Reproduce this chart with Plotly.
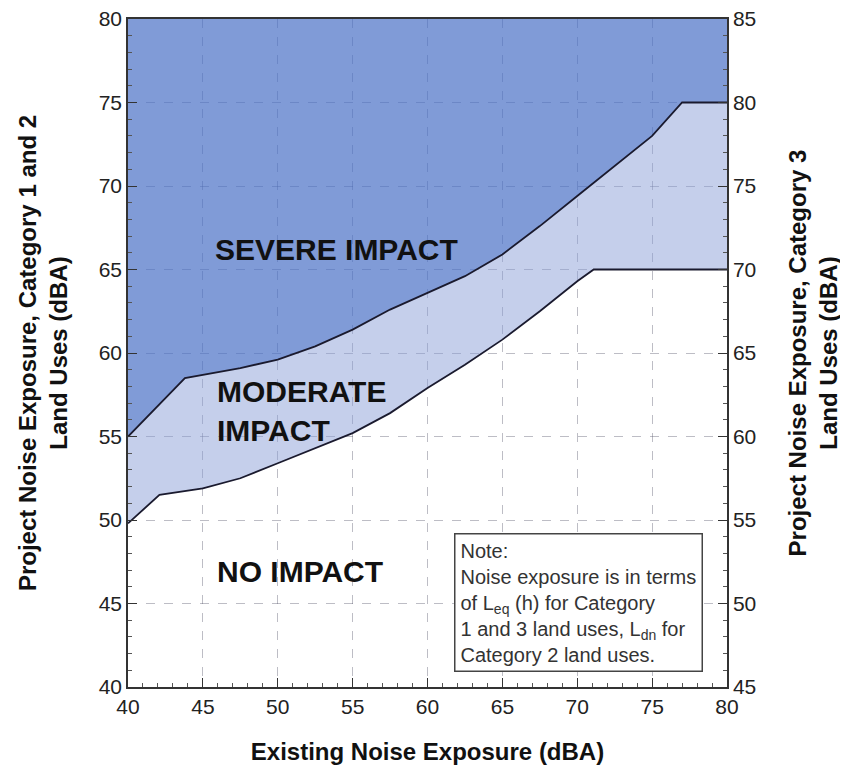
import plotly.graph_objects as go

# Existing noise exposure (dBA) and impact thresholds (Category 1 & 2 scale)
severe_x = [40, 43.8, 47.5, 50, 52.5, 55, 57.5, 60, 62.5, 65, 67.5, 70, 72.5, 75, 77, 80]
severe_y = [55.0, 58.5, 59.1, 59.6, 60.4, 61.4, 62.6, 63.6, 64.6, 65.9, 67.6, 69.4, 71.2, 73.0, 75.0, 75.0]

moderate_x = [40, 42.1, 45, 47.5, 50, 52.5, 55, 57.5, 60, 62.5, 65, 67.5, 70, 71.1, 80]
moderate_y = [49.8, 51.5, 51.9, 52.5, 53.4, 54.3, 55.2, 56.4, 57.9, 59.3, 60.8, 62.5, 64.3, 65.0, 65.0]

top_x = [40, 80]
top_y = [80, 80]

x_ticks = [40, 45, 50, 55, 60, 65, 70, 75, 80]
y_ticks = [40, 45, 50, 55, 60, 65, 70, 75, 80]
y2_ticks = [45, 50, 55, 60, 65, 70, 75, 80, 85]

SEVERE_FILL = "rgba(74,112,198,0.70)"
MODERATE_FILL = "rgba(139,159,215,0.50)"
FONT = "Liberation Sans, Arial, sans-serif"

fig = go.Figure()
fig.add_trace(go.Scatter(x=top_x, y=top_y, mode="lines", line=dict(width=0),
                         showlegend=False, hoverinfo="skip"))
fig.add_trace(go.Scatter(x=severe_x, y=severe_y, mode="lines", fill="tonexty",
                         fillcolor=SEVERE_FILL, line=dict(color="#1a1a2e", width=1.8),
                         showlegend=False))
fig.add_trace(go.Scatter(x=moderate_x, y=moderate_y, mode="lines", fill="tonexty",
                         fillcolor=MODERATE_FILL, line=dict(color="#1a1a2e", width=1.8),
                         showlegend=False))
# invisible trace to activate right axis
fig.add_trace(go.Scatter(x=[40, 80], y=[45, 85], yaxis="y2", mode="markers",
                         marker=dict(opacity=0), showlegend=False, hoverinfo="skip"))

grid = dict(showgrid=True, gridcolor="rgba(90,90,110,0.40)", griddash="dash", gridwidth=1)
tickfont = dict(family=FONT, size=21, color="#222")
titlefont = dict(family=FONT, size=24, color="#111")

fig.update_layout(
    width=840, height=765,
    margin=dict(l=120, r=121, t=11, b=86),
    paper_bgcolor="white", plot_bgcolor="white",
    font=dict(family=FONT),
    xaxis=dict(range=[40, 80], tickvals=x_ticks, ticks="inside", ticklen=9,
               tickcolor="#333", showline=True, linecolor="#333", linewidth=1.5,
               mirror=True, zeroline=False, tickfont=tickfont, automargin=False,
               ticklabeloverflow="allow",
               minor=dict(ticks="inside", dtick=1, ticklen=4, tickcolor="#555", showgrid=False),
               title=dict(text="<b>Existing Noise Exposure (dBA)</b>", font=titlefont, standoff=26),
               **grid),
    yaxis=dict(range=[40, 80], tickvals=y_ticks, ticks="inside", ticklen=9,
               tickcolor="#333", showline=True, linecolor="#333", linewidth=1.5,
               zeroline=False, tickfont=tickfont, automargin=False,
               ticklabeloverflow="allow",
               minor=dict(ticks="inside", dtick=1, ticklen=4, tickcolor="#555", showgrid=False),
               title=dict(text="<b>Project Noise Exposure, Category 1 and 2<br>Land Uses (dBA)</b>",
                          font=titlefont, standoff=24),
               **grid),
    yaxis2=dict(range=[45, 85], tickvals=y2_ticks, overlaying="y", side="right",
                ticks="inside", ticklen=9, tickcolor="#333", showline=True,
                linecolor="#333", linewidth=1.5, showgrid=False, zeroline=False,
                tickfont=tickfont, automargin=False, ticklabeloverflow="allow",
                minor=dict(ticks="inside", dtick=1, ticklen=4, tickcolor="#555"),
                title=dict(text="<b>Project Noise Exposure, Category 3<br>Land Uses (dBA)</b>",
                           font=titlefont, standoff=34)),
)

label_font = dict(family=FONT, size=30, color="#111")
fig.add_annotation(x=45.7, y=66.2, text="<b>SEVERE IMPACT</b>", showarrow=False,
                   xanchor="left", yanchor="middle", font=label_font)
fig.add_annotation(x=45.8, y=56.5, text="<b>MODERATE<br>IMPACT</b>", showarrow=False,
                   xanchor="left", yanchor="middle", align="left", font=label_font)
fig.add_annotation(x=45.8, y=46.9, text="<b>NO IMPACT</b>", showarrow=False,
                   xanchor="left", yanchor="middle", font=label_font)

note = ("Note:<br>Noise exposure is in terms<br>of L<sub>eq</sub> (h) for Category<br>"
        "1 and 3 land uses, L<sub>dn</sub> for<br>Category 2 land uses.")
fig.add_annotation(x=61.8, y=49.2, text=note, showarrow=False, xanchor="left", yanchor="top",
                   align="left", bgcolor="white", bordercolor="#444", borderwidth=1.5,
                   borderpad=5, font=dict(family=FONT, size=20, color="#333"))

fig.write_html("out.html")
